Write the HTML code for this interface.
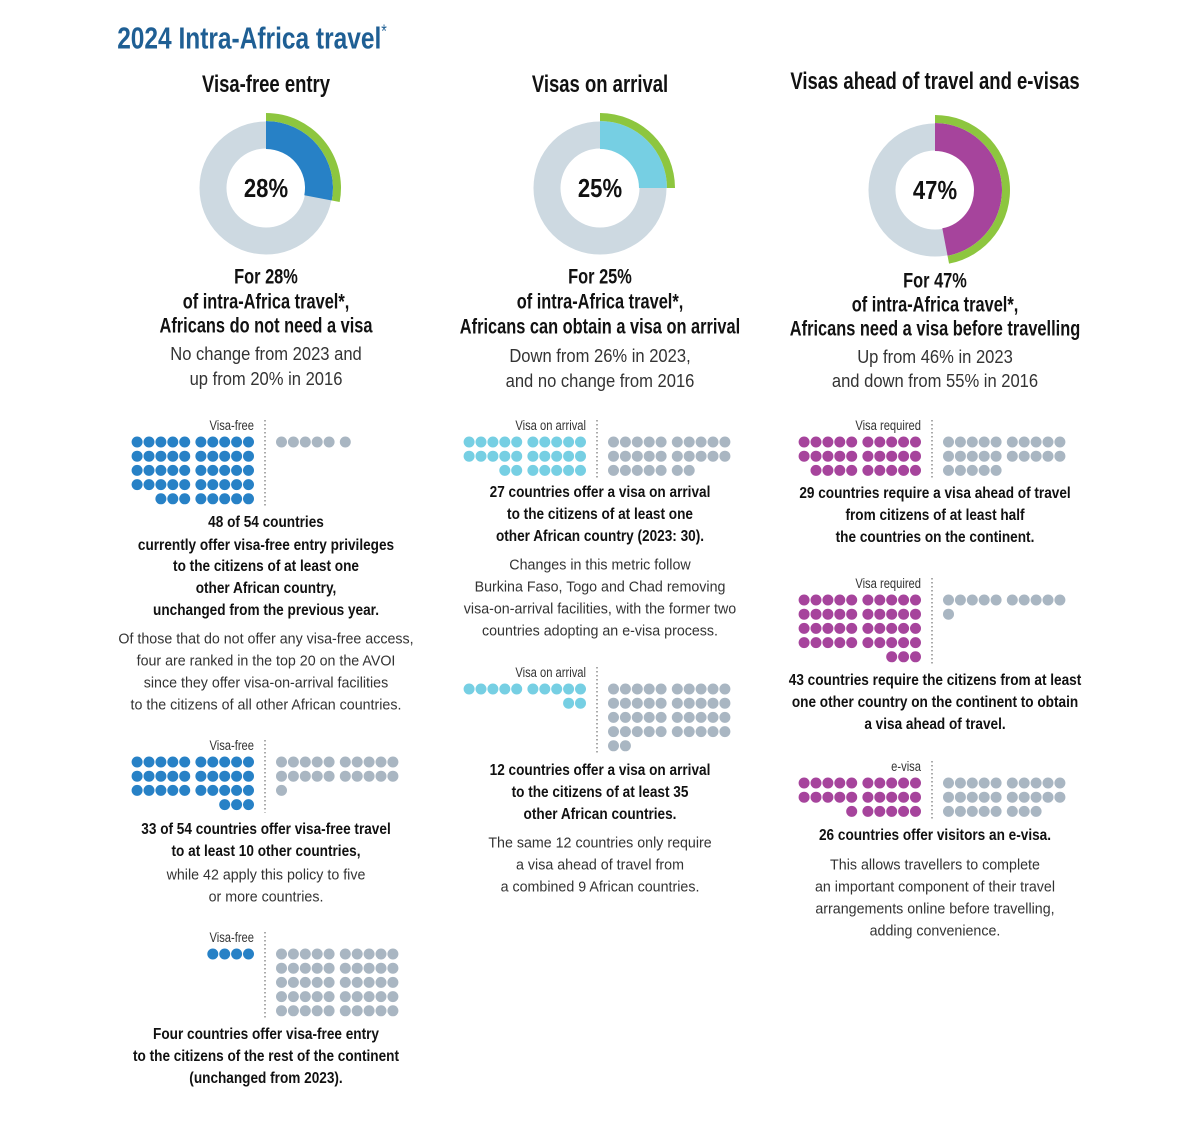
<!DOCTYPE html>
<html><head><meta charset="utf-8">
<style>
html,body{margin:0;padding:0;background:#fff;}
#root{position:relative;width:1194px;height:1121px;overflow:hidden;font-family:"Liberation Sans",sans-serif;color:#111;}
.t{position:absolute;white-space:nowrap;transform:translate(-50%,-50%) scaleX(var(--s));line-height:1;}
.b{font-weight:bold;}
.l{color:#333;}
svg{position:absolute;left:0;top:0;}
</style></head>
<body>
<div id="root">
<div class="t b" style="left:252px;top:38px;font-size:31px;color:#1f5f94;--s:0.79">2024 Intra-Africa travel<span style="font-weight:normal;font-size:18px;vertical-align:top">*</span></div>
<svg id="chart" width="1194" height="1121"></svg>
</div>
<script>
// donut data
const donutLabels = ["28%","25%","47%"];
const donutValues = [28,25,47];
const donutColors = ["#2781c6","#76cfe3","#a6449c"];
// dot grid data
const gridLabels = ["Visa-free","Visa-free","Visa-free","Visa on arrival","Visa on arrival","Visa required","Visa required","e-visa"];
const gridColoured = [48,33,4,27,12,29,43,26];
const gridGrey = [6,21,50,27,42,25,11,28];
const gridColumn = [0,0,0,1,1,2,2,2];

const NS="http://www.w3.org/2000/svg";
const svg=document.getElementById('chart');
const root=document.getElementById('root');
const colX=[266,600,935];
const divX=[265,597,932];
const donutY=[188,188,190];
const gridTop=[442,762,954,442,689,442,600,783];

function mk(tag,attrs){const e=document.createElementNS(NS,tag);for(const k in attrs)e.setAttribute(k,attrs[k]);svg.appendChild(e);return e;}
function arc(cx,cy,r0,r1,a0,a1){
 const p=(r,a)=>[cx+r*Math.sin(a),cy-r*Math.cos(a)];
 const large=(a1-a0)>Math.PI?1:0;
 const [x0,y0]=p(r1,a0),[x1,y1]=p(r1,a1),[x2,y2]=p(r0,a1),[x3,y3]=p(r0,a0);
 return `M${x0},${y0}A${r1},${r1} 0 ${large} 1 ${x1},${y1}L${x2},${y2}A${r0},${r0} 0 ${large} 0 ${x3},${y3}Z`;
}
donutValues.forEach((v,i)=>{
 const cx=colX[i],cy=donutY[i];
 const c=mk('circle',{cx:cx,cy:cy,r:53,fill:'none',stroke:'#cdd9e1','stroke-width':27});
 
 
 const a=v/100*2*Math.PI;
 const seg=mk('path',{d:arc(cx,cy,39,67,0,a),fill:donutColors[i]});
 
 
 const g=mk('path',{d:arc(cx,cy,67,75,0,a),fill:'#8dc63f'});
 
 
 const t=mk('text',{x:cx,y:cy+9,'text-anchor':'middle','font-size':26,'font-weight':'bold','font-family':'Liberation Sans, sans-serif',fill:'#111',transform:`translate(${cx},0) scale(0.85,1) translate(${-cx},0)`});
 t.textContent=donutLabels[i];
 
 
});

const pitch=11.9,gap=4.3,rowH=14.2,rad=5.5;
function colOff(k){return k*pitch+(k>=5?gap:0);}
gridColoured.forEach((n,i)=>{
 const c=gridColumn[i],dx=divX[c],y0=gridTop[i];
 const color=donutColors[c];
 const right=dx-11-rad;
 const rows=Math.ceil(n/10);
 for(let j=0;j<n;j++){
  const r=Math.floor(j/10),k=j%10;
  const inRow=(r===rows-1)?(n-10*r):10;
  const kk=10-inRow+k;
  const cx=right-(colOff(9)-colOff(kk));
  const d=mk('circle',{cx:cx,cy:y0+r*rowH,r:rad,fill:color});
  
  
 }
 const ng=gridGrey[i];
 const left=dx+11+rad;
 for(let j=0;j<ng;j++){
  const r=Math.floor(j/10),k=j%10;
  const d=mk('circle',{cx:left+colOff(k),cy:y0+r*rowH,r:rad,fill:'#a9b6c2'});
  
  
 }
 const gr=Math.max(rows,Math.ceil(ng/10));
 const ln=mk('line',{x1:dx,x2:dx,y1:y0-22,y2:y0+(gr-1)*rowH+8,stroke:'#555','stroke-width':1,'stroke-dasharray':'1.5,2.5'});
 
 
 const lb=mk('text',{x:dx-11,y:y0-12,'text-anchor':'end','font-size':14,'font-family':'Liberation Sans, sans-serif',fill:'#333',transform:`translate(${dx-11},0) scale(0.8,1) translate(${-(dx-11)},0)`});
 lb.textContent=gridLabels[i];
 
 
});

const lines=[
[0,85,'h','Visa-free entry'],[1,85,'h','Visas on arrival'],[2,82,'h','Visas ahead of travel and e-visas'],
[0,277,'s','For 28%'],[0,302,'s','of intra-Africa travel*,'],[0,326,'s','Africans do not need a visa'],
[0,354,'m','No change from 2023 and'],[0,379,'m','up from 20% in 2016'],
[0,523,'b','48 of 54 countries'],[0,546,'b','currently offer visa-free entry privileges'],[0,567,'b','to the citizens of at least one'],[0,589,'b','other African country,'],[0,611,'b','unchanged from the previous year.'],
[0,639,'l','Of those that do not offer any visa-free access,'],[0,661,'l','four are ranked in the top 20 on the AVOI'],[0,683,'l','since they offer visa-on-arrival facilities'],[0,705,'l','to the citizens of all other African countries.'],
[0,830,'b','33 of 54 countries offer visa-free travel'],[0,852,'b','to at least 10 other countries,'],[0,875,'l','while 42 apply this policy to five'],[0,897,'l','or more countries.'],
[0,1035,'b','Four countries offer visa-free entry'],[0,1057,'b','to the citizens of the rest of the continent'],[0,1079,'b','(unchanged from 2023).'],
[1,277,'s','For 25%'],[1,302,'s','of intra-Africa travel*,'],[1,327,'s','Africans can obtain a visa on arrival'],
[1,356,'m','Down from 26% in 2023,'],[1,381,'m','and no change from 2016'],
[1,493,'b','27 countries offer a visa on arrival'],[1,515,'b','to the citizens of at least one'],[1,537,'b','other African country (2023: 30).'],
[1,565,'l','Changes in this metric follow'],[1,587,'l','Burkina Faso, Togo and Chad removing'],[1,609,'l','visa-on-arrival facilities, with the former two'],[1,631,'l','countries adopting an e-visa process.'],
[1,771,'b','12 countries offer a visa on arrival'],[1,793,'b','to the citizens of at least 35'],[1,815,'b','other African countries.'],
[1,843,'l','The same 12 countries only require'],[1,865,'l','a visa ahead of travel from'],[1,887,'l','a combined 9 African countries.'],
[2,281,'s','For 47%'],[2,305,'s','of intra-Africa travel*,'],[2,329,'s','Africans need a visa before travelling'],
[2,357,'m','Up from 46% in 2023'],[2,381,'m','and down from 55% in 2016'],
[2,494,'b','29 countries require a visa ahead of travel'],[2,516,'b','from citizens of at least half'],[2,538,'b','the countries on the continent.'],
[2,681,'b','43 countries require the citizens from at least'],[2,703,'b','one other country on the continent to obtain'],[2,725,'b','a visa ahead of travel.'],
[2,836,'b','26 countries offer visitors an e-visa.'],
[2,865,'l','This allows travellers to complete'],[2,887,'l','an important component of their travel'],[2,909,'l','arrangements online before travelling,'],[2,931,'l','adding convenience.']
];
const styles={h:['b',24,0.77],s:['b',21,0.78],m:['l',18,0.92],b:['b',16,0.85],l:['l',15,0.95]};
lines.forEach(([c,y,s,txt])=>{
 const st=styles[s];
 const d=document.createElement('div');
 d.className='t '+st[0];
 d.style.left=colX[c]+'px';d.style.top=y+'px';d.style.fontSize=st[1]+'px';d.style.setProperty('--s',st[2]);
 d.textContent=txt;
 
 
 root.appendChild(d);
});
</script>
</body></html>
